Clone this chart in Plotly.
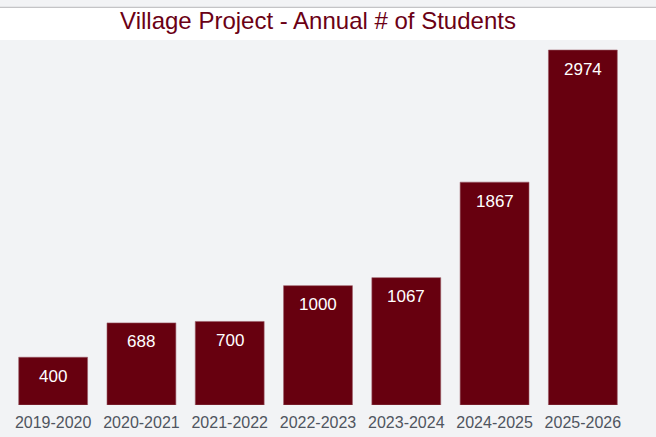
import plotly.graph_objects as go

# data
years = ["2019-2020", "2020-2021", "2021-2022", "2022-2023",
         "2023-2024", "2024-2025", "2025-2026"]
students = [400, 688, 700, 1000, 1067, 1867, 2974]

bar_color = "#67000f"
bg_color = "#f2f3f5"

fig = go.Figure()
fig.add_bar(
    x=years, y=students,
    marker=dict(color=bar_color, line=dict(color="#9a5a66", width=0.6)),
    hoverinfo="x+y",
)

# value labels, a bit below the top of each bar
for yr, n in zip(years, students):
    fig.add_annotation(
        x=yr, y=n, text=str(n), showarrow=False,
        yanchor="middle", yshift=-19,
        font=dict(family="Liberation Sans, Arial", size=17, color="white"),
    )

# white title band + thin rule above it
fig.add_shape(type="rect", xref="paper", yref="paper",
              x0=-0.05, x1=1.1, y0=1.0, y1=1.0877,
              fillcolor="white", line_width=0, layer="below")
fig.add_shape(type="line", xref="paper", yref="paper",
              x0=-0.05, x1=1.1, y0=1.0895, y1=1.0895,
              line=dict(color="#c4c4c6", width=1.4), layer="below")

fig.update_layout(
    width=656, height=437,
    margin=dict(l=9, r=29, t=40, b=32),
    paper_bgcolor=bg_color, plot_bgcolor=bg_color,
    bargap=0.22, showlegend=False,
    title=dict(text="Village Project - Annual # of Students",
               x=0.5, xref="paper", xanchor="center", y=0.953, yanchor="middle",
               font=dict(family="Liberation Sans, Arial", size=24, color="#6b0015")),
    font=dict(family="Liberation Sans, Arial"),
)
fig.update_xaxes(
    tickfont=dict(size=16, color="#4f5560"), ticklabelstandoff=6,
    automargin=False,
    showgrid=False, zeroline=False, showline=False, ticks="",
)
fig.update_yaxes(
    range=[0, 3058], visible=False, showgrid=False, zeroline=False,
)

# drop the default page margin so the figure sits at the window corner
fig.write_html("out.html", config={"displayModeBar": False},
               post_script="document.body.style.margin='0';"
               "document.body.style.background='%s';" % bg_color)
